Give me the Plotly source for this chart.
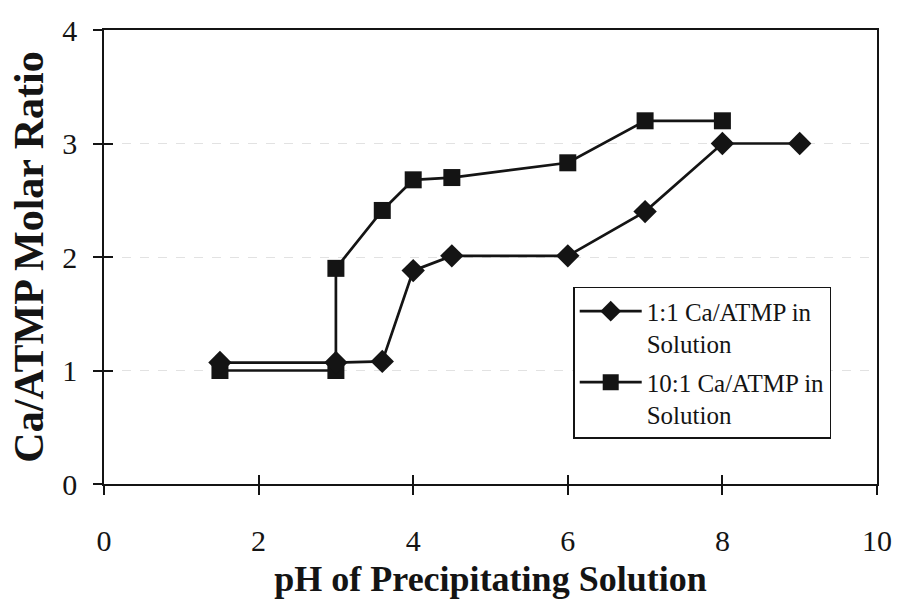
import plotly.graph_objects as go

# pH of the precipitating solution and the measured Ca/ATMP molar ratio of the solid
ph_1to1 = [1.5, 3.0, 3.6, 4.0, 4.5, 6.0, 7.0, 8.0, 9.0]
ratio_1to1 = [1.07, 1.07, 1.08, 1.88, 2.01, 2.01, 2.40, 3.0, 3.0]

ph_10to1 = [1.5, 3.0, 3.0, 3.6, 4.0, 4.5, 6.0, 7.0, 8.0]
ratio_10to1 = [1.0, 1.0, 1.9, 2.41, 2.68, 2.70, 2.83, 3.20, 3.20]

name_1to1 = "1:1 Ca/ATMP in<br>Solution"
name_10to1 = "10:1 Ca/ATMP in<br>Solution"

x_ticks = [0, 2, 4, 6, 8, 10]
y_ticks = [0, 1, 2, 3, 4]

INK = "#141414"
SERIF = "Liberation Serif, Times New Roman, serif"

fig = go.Figure()

fig.add_trace(go.Scatter(
    x=ph_10to1, y=ratio_10to1, name=name_10to1, mode="lines+markers",
    line=dict(color=INK, width=2.7),
    marker=dict(symbol="square", size=17, color=INK),
    legendgroup="b", legendrank=2,
))
fig.add_trace(go.Scatter(
    x=ph_1to1, y=ratio_1to1, name=name_1to1, mode="lines+markers",
    line=dict(color=INK, width=2.7),
    marker=dict(symbol="diamond", size=18, color=INK),
    legendgroup="a", legendrank=1,
))
# helper trace so the overlaid axes (inner half of the crossing ticks) get drawn
fig.add_trace(go.Scatter(x=[None], y=[None], xaxis="x2", yaxis="y2",
                         showlegend=False, hoverinfo="skip"))

axis_common = dict(
    showline=True, linecolor=INK, linewidth=1.5, mirror=True,
    ticks="outside", ticklen=9, tickwidth=1.5, tickcolor=INK,
    tickfont=dict(family=SERIF, size=30, color=INK),
    zeroline=False, automargin=False,
)

fig.update_layout(
    width=897, height=599,
    margin=dict(l=104, r=20, t=30, b=115),
    paper_bgcolor="white", plot_bgcolor="white",
    font=dict(family=SERIF, color=INK),
    xaxis=dict(
        range=[0, 10], tickvals=x_ticks, showgrid=False,
        ticklabelstandoff=20,
        title=dict(text="<b>pH of Precipitating Solution</b>",
                   font=dict(family=SERIF, size=36, color=INK), standoff=12),
        **axis_common,
    ),
    yaxis=dict(
        range=[0, 4], tickvals=y_ticks,
        showgrid=True, gridcolor="#e2e2e2", griddash="dash", gridwidth=1,
        ticklabelstandoff=10,
        title=dict(text="<b>Ca/ATMP Molar Ratio</b>",
                   font=dict(family=SERIF, size=42, color=INK), standoff=6),
        **axis_common,
    ),
    xaxis2=dict(overlaying="x", anchor="y2", range=[0, 10], tickvals=x_ticks,
                ticks="inside", ticklen=9, tickwidth=1.5, tickcolor=INK,
                showticklabels=False, showline=False, showgrid=False, zeroline=False),
    yaxis2=dict(overlaying="y", anchor="x2", range=[0, 4], tickvals=y_ticks,
                ticks="inside", ticklen=9, tickwidth=1.5, tickcolor=INK,
                showticklabels=False, showline=False, showgrid=False, zeroline=False),
    legend=dict(
        x=0.607, y=0.434, xanchor="left", yanchor="top",
        bgcolor="white", bordercolor=INK, borderwidth=1.5,
        font=dict(family=SERIF, size=25, color=INK),
        valign="top", traceorder="grouped", tracegroupgap=3,
        itemwidth=62,
    ),
    showlegend=True,
)

fig.write_html("out.html")
